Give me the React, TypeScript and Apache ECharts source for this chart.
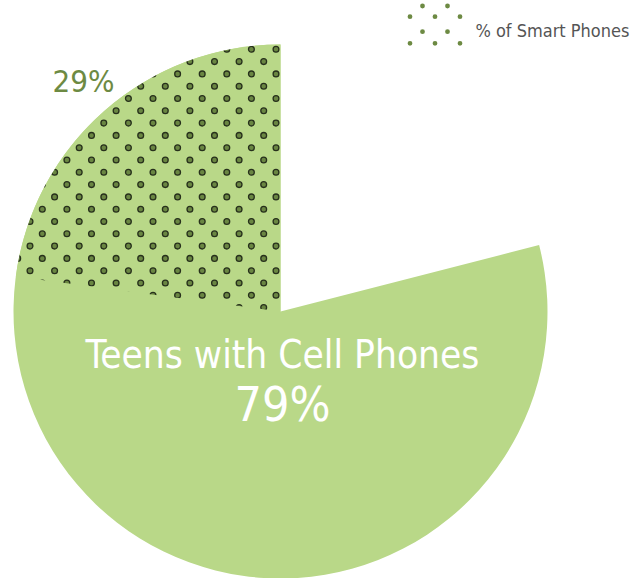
import React, { useEffect, useRef } from 'react';
import * as echarts from 'echarts';

// ---- data ----
const shareNames = ['Teens with Cell Phones', '% of Smart Phones'];
const shareValues = [79, 29]; // 79% of teens have cell phones; 29% of those are smart phones
const shareLabels = ['79%', '29%'];

// ---- styles ----
const GREEN = '#b9d888';
const OLIVE = '#6d8a43';
const FONT = "'DejaVu Sans Condensed', 'Liberation Sans Narrow', sans-serif";

function makeDotPattern(): HTMLCanvasElement {
  const period = 24.6;
  const n = 5;
  const size = Math.round(period * n); // 123
  const c = document.createElement('canvas');
  c.width = size;
  c.height = size;
  const ctx = c.getContext('2d')!;
  ctx.fillStyle = GREEN;
  ctx.fillRect(0, 0, size, size);
  const ox = 5.4, oy = 0.1;
  const pts: [number, number][] = [];
  for (let i = -1; i <= n; i++) {
    for (let j = -1; j <= n; j++) {
      pts.push([ox + i * period, oy + j * period]);
      pts.push([ox + (i + 0.5) * period, oy + (j + 0.5) * period]);
    }
  }
  for (const [x, y] of pts) {
    ctx.beginPath();
    ctx.arc(x, y, 2.9, 0, Math.PI * 2);
    ctx.fillStyle = '#6a8642';
    ctx.fill();
    ctx.lineWidth = 1.3;
    ctx.strokeStyle = '#27301c';
    ctx.stroke();
  }
  return c;
}

// legend icon: a small field of dots; a zero-area mark at the bottom extends the
// icon box so that the legend text sits lower, as in the reference
function legendIconPath(): string {
  const r = 2.4;
  const pts: [number, number][] = [
    [12.5, 0], [37.5, 0],
    [0, 10.7], [25, 10.7], [50, 10.7],
    [12.5, 25.7], [37.5, 25.7],
    [0, 37.3], [25, 37.3], [50, 37.3],
  ];
  const dots = pts
    .map(([x0, y0]) => {
      const x = x0 + r, y = y0 + r;
      return `M${x - r} ${y}A${r} ${r} 0 1 0 ${x + r} ${y}A${r} ${r} 0 1 0 ${x - r} ${y}Z`;
    })
    .join('');
  return 'path://' + dots + 'M27 53.8L27.01 53.8Z';
}

export default function App() {
  const ref = useRef<HTMLDivElement>(null);

  useEffect(() => {
    if (!ref.current) return;
    const chart = echarts.init(ref.current, null, { renderer: 'svg' });
    const pattern = makeDotPattern();
    const cellValue = shareValues[0];
    const smartValue = (shareValues[0] * shareValues[1]) / 100;

    const center = [280.5, 311.5];
    const radius = 267;

    chart.setOption({
      animation: false,
      backgroundColor: '#ffffff',
      legend: {
        data: [
          {
            name: shareNames[1],
            icon: legendIconPath(),
            itemStyle: { color: OLIVE, borderWidth: 0 },
          },
        ],
        left: 407.6,
        top: 3.6,
        padding: 0,
        itemWidth: 54.8,
        itemHeight: 53.8,
        symbolKeepAspect: true,
        selectedMode: false,
        textStyle: {
          fontFamily: FONT,
          fontSize: 18,
          color: '#555555',
          padding: [0, 0, 0, 8],
          overflow: 'none',
        },
      },
      series: [
        {
          type: 'pie',
          silent: true,
          center,
          radius,
          startAngle: 90,
          clockwise: false,
          data: [
            {
              name: shareNames[0],
              value: cellValue,
              itemStyle: { color: GREEN },
              label: {
                show: true,
                position: 'center',
                formatter: `{a|${shareNames[0]}}\n{b|${shareLabels[0]}}`,
                rich: {
                  a: { fontFamily: FONT, fontSize: 38.5, color: '#ffffff', lineHeight: 43.8, align: 'center' },
                  b: { fontFamily: FONT, fontSize: 48, color: '#ffffff', lineHeight: 56, align: 'center' },
                },
              },
            },
            {
              name: 'rest',
              value: 100 - cellValue,
              itemStyle: { color: 'rgba(0,0,0,0)' },
              label: { show: false },
            },
          ],
          labelLine: { show: false },
          labelLayout: (p: any) => (p.dataIndex === 0 ? { dx: 2, dy: 71 } : {}),
        },
        {
          type: 'pie',
          silent: true,
          center,
          radius,
          startAngle: 90,
          clockwise: false,
          data: [
            {
              name: shareNames[1],
              value: smartValue,
              itemStyle: { color: { image: pattern, repeat: 'repeat' } },
              label: {
                show: true,
                position: 'outside',
                overflow: 'none',
                formatter: shareLabels[1],
                fontFamily: FONT,
                fontSize: 31,
                color: OLIVE,
              },
            },
            {
              name: 'rest2',
              value: 100 - smartValue,
              itemStyle: { color: 'rgba(0,0,0,0)' },
              label: { show: false },
            },
          ],
          labelLine: { show: false },
          labelLayout: (p: any) =>
            p.dataIndex === 0 ? { x: 83.5, y: 80.5, align: 'center', verticalAlign: 'middle' } : {},
        },
      ],
    });

    return () => chart.dispose();
  }, []);

  return (
    <div
      ref={ref}
      style={{ position: 'fixed', left: 0, top: 0, width: 633, height: 578 }}
    />
  );
}
